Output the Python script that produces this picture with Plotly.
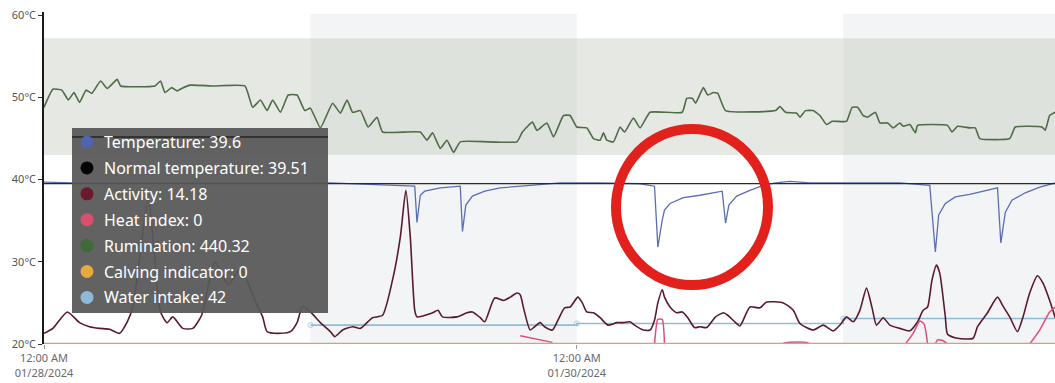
import datetime as dt
import plotly.graph_objects as go

# ---------------- data (hours after 2024-01-28 00:00, values on the °C axis) ----------------
START = dt.datetime(2024, 1, 28, 0, 0)
END_HOURS = 91.08

rumination_hours = [
    0.0, 0.8, 1.6, 2.2, 2.7, 3.2, 3.8, 4.3, 5.1, 5.7,
    6.6, 6.9, 10.0, 10.5, 10.9, 11.5, 12.0, 12.4, 13.2, 15.2,
    18.1, 18.8, 19.5, 20.1, 20.6, 21.3, 22.0, 22.8, 23.5, 24.0,
    24.9, 26.0, 26.7, 27.3, 27.8, 28.5, 29.2, 30.0, 30.5, 33.9,
    34.5, 35.0, 35.7, 36.3, 36.9, 37.5, 42.6, 43.1, 44.0, 44.4,
    45.3, 45.9, 46.8, 47.4, 48.0, 48.9, 49.5, 50.1, 50.4, 50.7,
    51.3, 51.9, 52.3, 53.1, 53.7, 54.6, 57.5, 57.9, 58.4, 58.7,
    59.4, 59.8, 60.3, 60.7, 61.4, 65.9, 66.3, 66.8, 67.8, 68.1,
    68.6, 69.3, 69.9, 70.5, 71.0, 72.3, 72.8, 73.3, 73.8, 74.2,
    74.9, 75.3, 76.0, 76.5, 77.1, 77.4, 78.0, 78.5, 78.7, 81.4,
    81.8, 82.3, 83.4, 83.9, 84.3, 87.0, 87.5, 89.9, 90.2, 90.6,
    91.1,
]
rumination_values = [
    48.8, 51.0, 50.9, 49.7, 50.6, 49.4, 50.9, 50.5, 52.0, 51.1,
    52.2, 51.4, 51.4, 52.0, 50.6, 51.2, 50.8, 51.1, 51.5, 51.4,
    51.4, 48.8, 49.7, 48.4, 49.7, 48.2, 50.3, 50.3, 48.4, 48.7,
    46.3, 49.3, 48.1, 49.7, 48.2, 48.4, 46.4, 47.6, 45.8, 45.8,
    44.8, 45.7, 43.8, 44.8, 43.3, 44.6, 44.6, 45.8, 47.0, 46.0,
    46.9, 45.2, 47.8, 47.8, 46.4, 46.3, 45.0, 44.8, 45.7, 44.8,
    44.6, 46.4, 45.8, 47.5, 46.3, 48.2, 48.2, 49.9, 49.9, 49.3,
    51.2, 50.3, 50.6, 50.5, 48.4, 48.4, 48.9, 48.2, 48.1, 47.6,
    48.4, 48.4, 47.8, 46.7, 47.1, 47.1, 48.8, 48.8, 47.8, 47.6,
    48.2, 46.9, 46.9, 46.3, 46.9, 46.5, 46.7, 45.7, 46.6, 46.6,
    45.8, 46.5, 46.3, 46.3, 45.0, 45.0, 46.4, 46.4, 46.0, 47.8,
    48.2,
]

temperature_hours = [
    0.0, 2.6, 25.7, 32.1, 33.4, 33.6, 33.9, 34.3, 35.7, 37.5,
    37.7, 38.0, 38.6, 39.7, 41.1, 43.8, 46.5, 50.1, 53.7, 55.0,
    55.3, 55.7, 55.9, 56.4, 57.6, 59.1, 61.1, 61.4, 61.7, 62.4,
    63.6, 64.8, 65.9, 67.2, 69.0, 77.1, 79.8, 80.3, 80.6, 81.2,
    82.1, 83.4, 85.9, 86.2, 86.6, 87.2, 88.4, 89.7, 91.1,
]
temperature_values = [
    39.7, 39.6, 39.6, 39.3, 39.2, 34.8, 38.1, 38.6, 39.0, 39.2,
    33.7, 36.9, 38.0, 38.6, 39.0, 39.3, 39.6, 39.6, 39.5, 39.2,
    31.8, 35.1, 36.3, 37.1, 37.8, 38.1, 38.6, 34.7, 36.9, 38.0,
    38.7, 39.3, 39.6, 39.8, 39.6, 39.6, 39.3, 31.2, 35.7, 37.1,
    37.9, 38.2, 39.0, 32.3, 36.0, 37.5, 38.4, 39.1, 39.6,
]

normal_temperature_hours = [0.0, 91.1]
normal_temperature_values = [39.51, 39.51]

activity_hours = [
    0.0, 0.8, 2.1, 3.2, 4.1, 5.0, 5.9, 6.8, 7.5, 8.0,
    9.4, 10.5, 11.1, 11.6, 12.5, 13.4, 14.2, 15.4, 16.6, 17.7,
    19.0, 19.7, 20.1, 21.3, 22.2, 22.8, 23.3, 24.0, 24.9, 25.8,
    26.2, 26.9, 27.8, 28.5, 29.1, 29.6, 30.5, 31.4, 32.1, 32.6,
    33.0, 33.4, 33.6, 35.0, 35.5, 35.9, 37.2, 38.1, 38.6, 39.3,
    39.7, 40.6, 41.4, 42.0, 42.6, 42.9, 43.2, 43.8, 44.2, 44.7,
    45.1, 45.8, 46.3, 46.9, 47.4, 48.1, 48.5, 48.9, 49.5, 50.1,
    50.8, 51.6, 52.2, 52.8, 53.2, 54.0, 54.6, 55.0, 55.3, 55.7,
    55.9, 56.4, 57.0, 57.5, 58.0, 58.6, 59.1, 59.7, 60.5, 61.2,
    61.6, 62.3, 62.7, 63.6, 64.5, 65.1, 66.6, 67.5, 68.1, 69.3,
    70.2, 71.1, 71.7, 72.3, 72.9, 73.5, 74.1, 74.6, 75.0, 75.6,
    76.2, 77.1, 78.0, 78.7, 79.2, 79.6, 80.0, 80.4, 80.7, 81.2,
    81.4, 82.3, 83.7, 84.1, 85.0, 85.9, 86.4, 87.0, 87.7, 88.2,
    88.8, 89.5, 90.0, 90.6, 91.1,
]
activity_values = [
    21.3, 21.9, 23.9, 22.6, 22.1, 21.9, 21.8, 21.3, 22.7, 24.5,
    37.5, 23.9, 22.6, 23.3, 21.9, 21.9, 23.5, 30.0, 27.2, 29.2,
    25.3, 23.3, 21.5, 21.3, 21.5, 22.6, 24.6, 23.9, 22.6, 21.5,
    20.9, 21.7, 22.1, 21.9, 22.6, 23.2, 23.5, 27.8, 33.0, 38.7,
    33.0, 24.1, 23.3, 23.8, 24.1, 23.3, 23.3, 23.8, 23.9, 23.2,
    22.7, 25.6, 25.3, 25.7, 26.2, 26.0, 24.4, 21.7, 22.1, 22.6,
    22.1, 21.7, 22.9, 24.4, 24.5, 25.7, 25.0, 23.9, 23.8, 23.2,
    22.3, 22.6, 22.6, 22.7, 22.3, 21.7, 21.7, 22.9, 25.0, 26.6,
    25.7, 24.5, 23.8, 23.9, 23.2, 22.0, 22.1, 22.0, 23.3, 23.8,
    23.5, 22.6, 22.2, 24.5, 24.4, 25.1, 25.0, 24.1, 22.5, 21.7,
    22.3, 21.6, 22.3, 23.3, 22.7, 24.1, 26.8, 24.4, 22.3, 23.2,
    22.3, 21.9, 21.6, 22.7, 24.1, 24.5, 27.8, 29.6, 28.6, 23.3,
    21.2, 20.7, 20.7, 22.1, 23.8, 25.7, 24.6, 23.3, 21.5, 23.3,
    26.2, 28.3, 27.4, 25.3, 23.2,
]

heat_index_hours = [
    42.9, 45.8, None,
    55.0, 55.3, 55.7, 55.9, None,
    66.6, 67.2, 68.7, 69.0, None,
    77.6, 78.3, 78.9, 79.3, 79.6, None,
    80.3, 80.5, 81.0, 81.4, None,
    88.8, 89.7, 90.6, 91.1,
]
heat_index_values = [
    21.0, 20.2, None,
    20.0, 23.0, 23.0, 20.0, None,
    20.1, 20.2, 20.2, 20.0, None,
    20.0, 21.3, 22.8, 22.4, 20.0, None,
    20.0, 20.5, 20.4, 20.0, None,
    20.0, 21.7, 23.9, 24.5,
]

calving_hours = [0.0, 91.1]
calving_values = [20.0, 20.0]

water_intake_hours = [24.0, 48.0, 72.0, 91.1]
water_intake_values = [22.3, 22.5, 23.1, 23.1]

rumination_normal_range = [43.0, 57.2]
shaded_day_hours = [(24.0, 48.0), (72.0, 91.1)]

y_ticks = [20, 30, 40, 50, 60]
y_ticklabels = ["20°C", "30°C", "40°C", "50°C", "60°C"]
x_tick_hours = [0, 48]
x_ticklabels = ["12:00 AM<br>01/28/2024", "12:00 AM<br>01/30/2024"]

legend_names = ["Temperature", "Normal temperature", "Activity", "Heat index",
                "Rumination", "Calving indicator", "Water intake"]
legend_values = ["39.6", "39.51", "14.18", "0", "440.32", "0", "42"]
legend_colors = ["#4f63b0", "#050505", "#6a1a2c", "#d8506e", "#3f6b37", "#e6aa3e", "#8fb9d8"]


def to_time(hours):
    return [START + dt.timedelta(hours=h) if h is not None else None for h in hours]


fig = go.Figure()

# Background bands
for h0, h1 in shaded_day_hours:
    fig.add_shape(type="rect", xref="x", yref="paper",
                  x0=START + dt.timedelta(hours=h0), x1=START + dt.timedelta(hours=h1),
                  y0=0, y1=0.994, fillcolor="#f3f4f5", line_width=0, layer="below")
fig.add_shape(type="rect", xref="paper", yref="y", x0=0, x1=1,
              y0=rumination_normal_range[0], y1=rumination_normal_range[1],
              fillcolor="rgba(188,198,182,0.38)", line_width=0, layer="below")

# Series
fig.add_trace(go.Scatter(x=to_time(rumination_hours), y=rumination_values, mode="lines",
                         line=dict(color="#4f6b47", width=1.6, shape="spline", smoothing=0.4),
                         name="Rumination"))
fig.add_trace(go.Scatter(x=to_time(water_intake_hours), y=water_intake_values, mode="lines+markers",
                         line=dict(color="#8fbdd6", width=1.6, shape="hv"),
                         marker=dict(symbol="circle-open", size=[5, 5, 5, 0], color="#8fbdd6"),
                         name="Water intake"))
fig.add_trace(go.Scatter(x=to_time(activity_hours), y=activity_values, mode="lines",
                         line=dict(color="#5a1a2e", width=1.6, shape="spline", smoothing=0.6),
                         name="Activity"))
fig.add_trace(go.Scatter(x=to_time(heat_index_hours), y=heat_index_values, mode="lines",
                         connectgaps=False,
                         line=dict(color="#dc4f7c", width=1.5, shape="spline", smoothing=0.5),
                         name="Heat index"))
fig.add_trace(go.Scatter(x=to_time(temperature_hours), y=temperature_values, mode="lines",
                         line=dict(color="#5b6db5", width=1.3), name="Temperature"))
fig.add_trace(go.Scatter(x=to_time(normal_temperature_hours), y=normal_temperature_values, mode="lines",
                         line=dict(color="#2a2a2a", width=1.3), name="Normal temperature"))
fig.add_trace(go.Scatter(x=to_time(calving_hours), y=calving_values, mode="lines", cliponaxis=False,
                         line=dict(color="#d6a55e", width=2.5), name="Calving indicator"))

# Legend-style box
PLOT_L, PLOT_T, PLOT_W, PLOT_H = 44, 12, 1011, 332


def px_x(px):
    return (px - PLOT_L) / PLOT_W


def px_y(py):
    return (PLOT_T + PLOT_H - py) / PLOT_H


fig.add_shape(type="rect", xref="paper", yref="paper",
              x0=px_x(72), x1=px_x(328), y0=px_y(313), y1=px_y(128),
              fillcolor="rgba(88,88,88,0.94)", line_width=0, layer="above")
fig.add_shape(type="line", xref="paper", yref="paper",
              x0=px_x(72), x1=px_x(328), y0=px_y(137), y1=px_y(137),
              line=dict(color="rgba(40,40,40,0.8)", width=2), layer="above")
for i, (nm, val, col) in enumerate(zip(legend_names, legend_values, legend_colors)):
    row_py = 142 + i * 25.9
    fig.add_shape(type="circle", xref="paper", yref="paper",
                  xsizemode="pixel", ysizemode="pixel",
                  xanchor=px_x(87), yanchor=px_y(row_py),
                  x0=-6.5, x1=6.5, y0=-6.5, y1=6.5,
                  fillcolor=col, line_width=0, layer="above")
    fig.add_annotation(xref="paper", yref="paper", x=px_x(102), y=px_y(row_py),
                       xanchor="left", yanchor="middle", showarrow=False,
                       text=f"{nm}: {val}",
                       font=dict(family="Noto Sans", size=16, color="white"))

# Red highlight circle
fig.add_shape(type="circle", xref="paper", yref="paper",
              x0=px_x(616), x1=px_x(768), y0=px_y(285), y1=px_y(129),
              line=dict(color="#e3211c", width=10), fillcolor="rgba(0,0,0,0)", layer="above")

fig.update_layout(
    width=1055, height=383,
    margin=dict(l=PLOT_L, r=0, t=PLOT_T, b=39),
    plot_bgcolor="white", paper_bgcolor="white",
    showlegend=False,
    font=dict(family="Noto Sans", size=11, color="#555555"),
    xaxis=dict(
        range=[START, START + dt.timedelta(hours=END_HOURS)],
        tickvals=to_time(x_tick_hours), ticktext=x_ticklabels,
        ticks="outside", ticklen=4, tickcolor="#999999",
        showgrid=False, zeroline=False, showline=False,
        tickfont=dict(size=11, color="#6a6a6a"),
    ),
    yaxis=dict(
        range=[20, 60.4], tickvals=y_ticks, ticktext=y_ticklabels,
        ticks="outside", ticklen=4, tickcolor="#333333",
        showgrid=False, zeroline=False,
        showline=True, linecolor="#1a1a1a", linewidth=1.5,
        tickfont=dict(size=11, color="#555555"),
    ),
)

fig.write_html("out.html", config={"displayModeBar": False},
               post_script="document.body.style.margin='0';document.body.style.overflow='hidden';")
